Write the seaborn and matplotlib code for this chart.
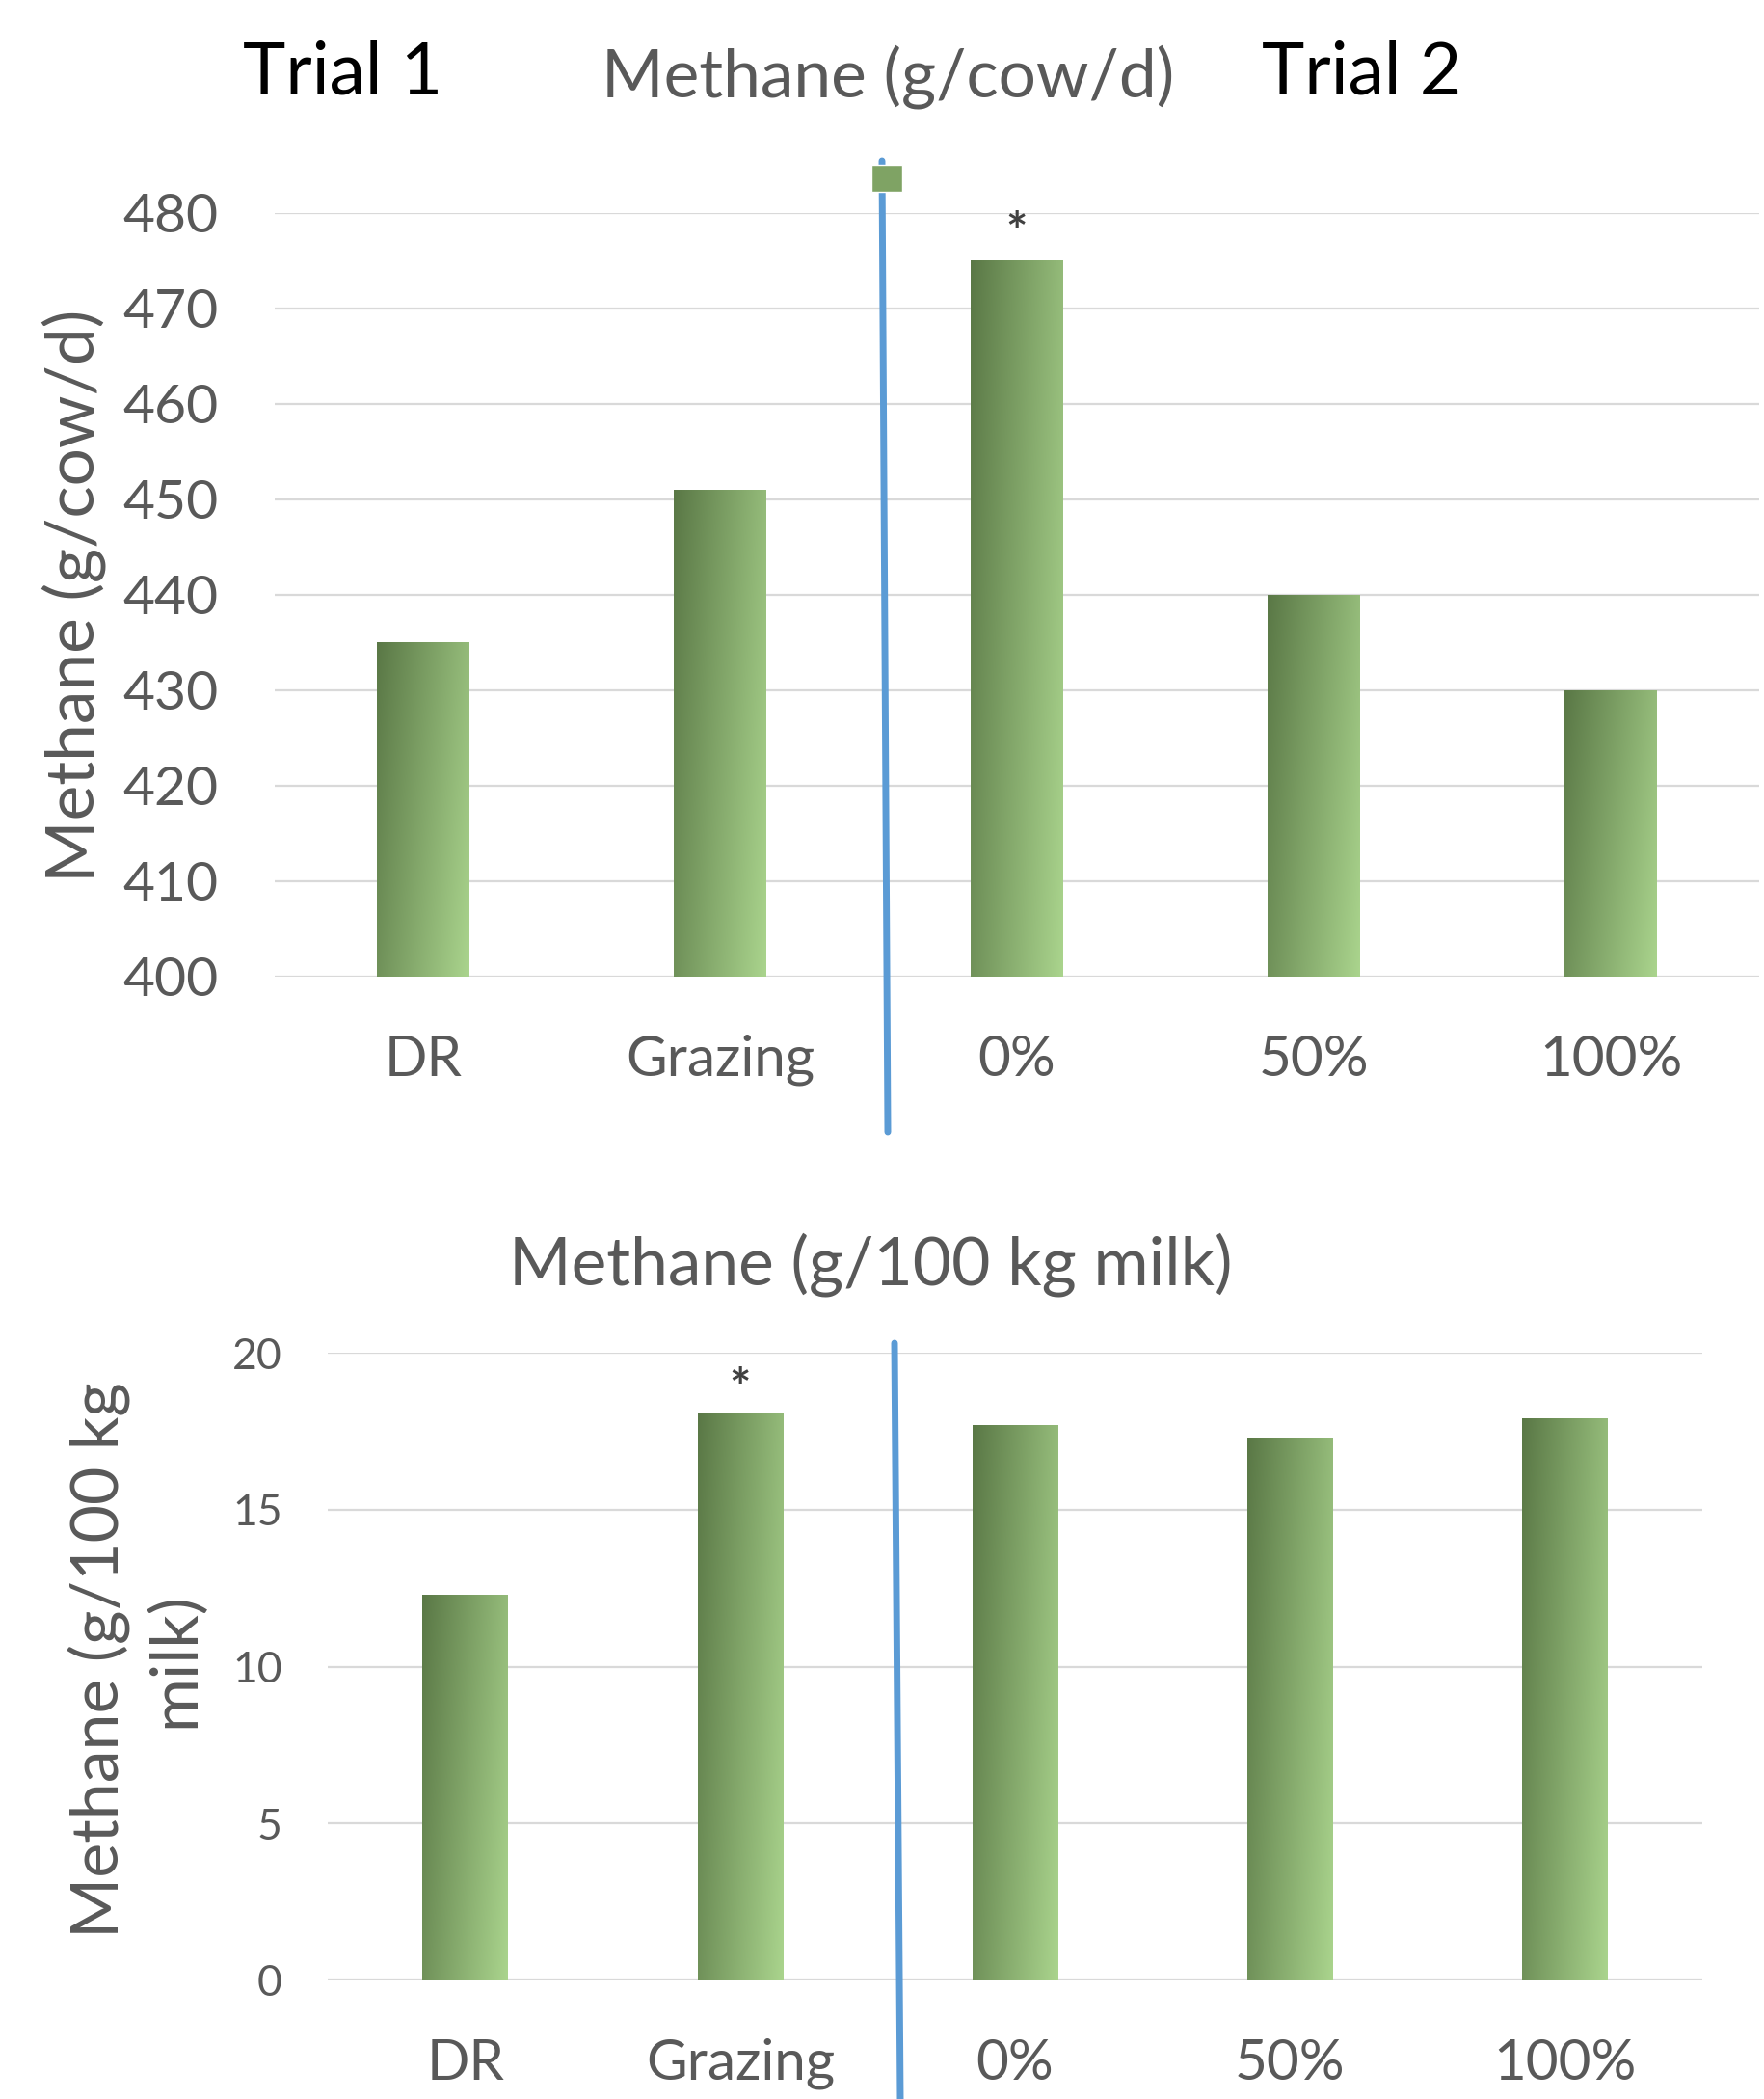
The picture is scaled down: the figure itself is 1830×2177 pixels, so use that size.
import numpy as np
import pandas as pd
import seaborn as sns
import matplotlib.pyplot as plt
from matplotlib.lines import Line2D
from matplotlib.patches import Patch
from matplotlib.colors import to_rgb

# Datos
categories = ["DR", "Grazing", "0%", "50%", "100%"]
methane_cow = [435, 451, 475, 440, 430]
methane_milk = [12.3, 18.1, 17.7, 17.3, 17.9]
stars_cow = ["", "", "*", "", ""]
stars_milk = ["", "*", "", "", ""]

sns.set_theme(style="white")
plt.rcParams['font.family'] = ['Lato', 'DejaVu Sans']

GRAY = "#595959"
DARK = "#5a7846"
LIGHT = "#aad48d"


def make_gradient(nx=60, ny=200):
    u = np.linspace(0, 1, nx)[None, :]
    v = np.linspace(0, 1, ny)[:, None]
    t = np.clip(0.72 * u + 0.28 * v, 0, 1)
    c0 = np.array(to_rgb(DARK))
    c1 = np.array(to_rgb(LIGHT))
    return c0[None, None, :] * (1 - t[..., None]) + c1[None, None, :] * t[..., None]


def gradient_bars(ax):
    xl, yl = ax.get_xlim(), ax.get_ylim()
    for p in list(ax.patches):
        x0, w = p.get_x(), p.get_width()
        y0 = max(p.get_y(), yl[0])
        y1 = p.get_y() + p.get_height()
        im = ax.imshow(make_gradient(), extent=[x0, x0 + w, y0, y1], origin='upper',
                       aspect='auto', zorder=2, interpolation='bilinear')
        im.set_clip_path(p)
        p.set_facecolor('none')
        p.set_edgecolor('none')
    ax.set_xlim(xl)
    ax.set_ylim(yl)


def style_axes(ax, tick_size, ypad, xpad):
    sns.despine(ax=ax, left=True, bottom=True)
    ax.set_axisbelow(True)
    ax.yaxis.grid(True, color="#d9d9d9", linewidth=1.6)
    ax.xaxis.grid(False)
    ax.tick_params(axis='y', length=0, pad=ypad, labelsize=tick_size, labelcolor=GRAY)
    ax.tick_params(axis='x', length=0, pad=xpad, labelsize=42, labelcolor=GRAY)
    ax.set_xlabel("")
    ax.set_ylabel("")


fig = plt.figure(figsize=(18.31, 21.77), dpi=100)

# --- grafico superior ---
ax1 = fig.add_axes([0.1557, 0.5347, 0.8410, 0.3638])
df1 = pd.DataFrame({"cat": categories, "val": methane_cow})
sns.barplot(data=df1, x="cat", y="val", ax=ax1, width=0.31, color=DARK)
ax1.set_ylim(400, 480)
ax1.set_yticks(range(400, 481, 10))
style_axes(ax1, 41, 42, 43)
gradient_bars(ax1)
for i, s in enumerate(stars_cow):
    if s:
        ax1.text(i, methane_cow[i] + 0.2, s, ha='center', va='bottom', fontsize=38,
                 color="#404040", fontweight='bold')

# --- grafico inferior ---
ax2 = fig.add_axes([0.1857, 0.0565, 0.7789, 0.2990])
df2 = pd.DataFrame({"cat": categories, "val": methane_milk})
sns.barplot(data=df2, x="cat", y="val", ax=ax2, width=0.31, color=DARK)
ax2.set_ylim(0, 20)
ax2.set_yticks(range(0, 21, 5))
style_axes(ax2, 32, 34, 43)
gradient_bars(ax2)
for i, s in enumerate(stars_milk):
    if s:
        ax2.text(i, methane_milk[i] - 0.05, s, ha='center', va='bottom', fontsize=38,
                 color="#404040", fontweight='bold')

# titulos y etiquetas
fig.text(0.1944, 0.9554, "Trial 1", ha='center', va='baseline', fontsize=54, color='black')
fig.text(0.7717, 0.9554, "Trial 2", ha='center', va='baseline', fontsize=54, color='black')
fig.text(0.503, 0.954, "Methane (g/cow/d)", ha='center', va='baseline', fontsize=50, color=GRAY)
fig.text(0.4932, 0.3877, "Methane (g/100 kg milk)", ha='center', va='baseline', fontsize=50, color=GRAY)
fig.text(0.042, 0.716, "Methane (g/cow/d)", rotation=90, ha='center', va='center', fontsize=50, color=GRAY)
fig.text(0.0776, 0.209, "Methane (g/100 kg\nmilk)", rotation=90, ha='center', va='center',
         fontsize=49, color=GRAY, multialignment='center', linespacing=1.3)

# leyenda sin texto
fig.legend(handles=[Patch(facecolor="#7fa364")], labels=[""], loc='center',
           bbox_to_anchor=(0.5025, 0.915), frameon=False, fontsize=20,
           handlelength=1.15, handleheight=1.15, handletextpad=0, borderpad=0)

# lineas separadoras
W, H = 1831, 2177
fig.add_artist(Line2D([915 / W, 921 / W], [1 - 167 / H, 1 - 1174 / H], color="#5b9bd5", linewidth=5))
fig.add_artist(Line2D([928 / W, 934 / W], [1 - 1393 / H, 0], color="#5b9bd5", linewidth=5))

plt.savefig("out.png", dpi=100)
plt.close()
